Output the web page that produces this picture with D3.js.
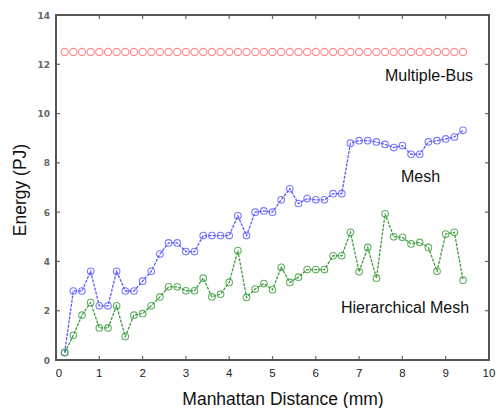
<!DOCTYPE html>
<html>
<head>
<meta charset="utf-8">
<script src="https://cdn.jsdelivr.net/npm/d3@7"></script>
<style>
  body { margin: 0; background: #fff; }
  svg { display: block; font-family: 'Liberation Sans', Arial, sans-serif; }
</style>
</head>
<body>
<svg id="chart" width="497" height="408"></svg>
<script>
const distance = d3.range(47).map(i => +(0.2 + i * 0.2).toFixed(1))

const multipleBus = distance.map(() => 12.5)

const mesh = [
  0.3, 2.8, 2.8, 3.6, 2.2, 2.2, 3.6, 2.8, 2.8, 3.2,
  3.6, 4.3, 4.75, 4.75, 4.4, 4.4, 5.05, 5.05, 5.05, 5.05,
  5.85, 5.05, 6.0, 6.05, 6.0, 6.5, 6.95, 6.35, 6.55, 6.5,
  6.5, 6.75, 6.75, 8.8, 8.9, 8.9, 8.85, 8.75, 8.62, 8.7,
  8.35, 8.35, 8.85, 8.9, 8.97, 9.05, 9.32
]

const hierMesh = [
  0.3, 1.0, 1.82, 2.33, 1.3, 1.3, 2.2, 0.95, 1.82, 1.88,
  2.2, 2.56, 2.97, 2.97, 2.81, 2.81, 3.32, 2.56, 2.67, 3.15,
  4.44, 2.54, 2.88, 3.1, 2.85, 3.76, 3.15, 3.36, 3.67, 3.67,
  3.67, 4.23, 4.23, 5.18, 3.58, 4.57, 3.32, 5.93, 5.0, 4.98,
  4.71, 4.77, 4.57, 3.6, 5.11, 5.18, 3.24
]

const xTicks = d3.range(0, 11)
const yTicks = d3.range(0, 15, 2)

const series = [
  {name: 'Multiple-Bus', values: multipleBus, color: '#ff6a6a', line: false, label: [385, 81]},
  {name: 'Mesh', values: mesh, color: '#5a5aff', line: true, label: [401, 182]},
  {name: 'Hierarchical Mesh', values: hierMesh, color: '#3c9c3c', line: true, label: [341, 313]}
]

const svg = d3.select('#chart')

const x = d3.scaleLinear().domain([0, 10]).range([56, 489])
const y = d3.scaleLinear().domain([0, 14]).range([360, 15])

// inward ticks on all four sides, matlab style
const tickLen = 4
const frame = svg.append('g').attr('stroke', '#666').attr('stroke-width', 1.2)
xTicks.forEach(t => {
  frame.append('line').attr('x1', x(t)).attr('x2', x(t)).attr('y1', y(0)).attr('y2', y(0) - tickLen)
  frame.append('line').attr('x1', x(t)).attr('x2', x(t)).attr('y1', y(14)).attr('y2', y(14) + tickLen)
})
yTicks.forEach(t => {
  frame.append('line').attr('x1', x(0)).attr('x2', x(0) + tickLen).attr('y1', y(t)).attr('y2', y(t))
  frame.append('line').attr('x1', x(10)).attr('x2', x(10) - tickLen).attr('y1', y(t)).attr('y2', y(t))
})

svg.append('g').selectAll('text').data(xTicks).enter().append('text')
  .attr('x', d => x(d) + (d === 0 ? 3 : 0))
  .attr('y', 377)
  .attr('text-anchor', 'middle')
  .attr('font-size', 11.5)
  .attr('fill', '#222')
  .text(d => d)

svg.append('g').selectAll('text').data(yTicks).enter().append('text')
  .attr('x', 50)
  .attr('y', d => y(d) + 3.5)
  .attr('text-anchor', 'end')
  .attr('font-size', 9)
  .attr('font-weight', 'bold')
  .attr('font-family', "'DejaVu Sans', sans-serif")
  .attr('fill', '#666')
  .text(d => d)

series.forEach(s => {
  const pts = distance.map((d, i) => [d, s.values[i]])
  const g = svg.append('g')
  if (s.line) {
    g.append('path')
      .datum(pts)
      .attr('fill', 'none')
      .attr('stroke', s.color)
      .attr('stroke-width', 1.3)
      .attr('stroke-dasharray', '3,1.2')
      .attr('d', d3.line().x(d => x(d[0])).y(d => y(d[1])))
  }
  g.selectAll('circle').data(pts).enter().append('circle')
    .attr('cx', d => x(d[0]))
    .attr('cy', d => y(d[1]))
    .attr('r', s.line ? 3.3 : 3.6)
    .attr('fill', 'none')
    .attr('stroke', s.color)
    .attr('stroke-opacity', 0.8)
    .attr('stroke-width', 1.1)

  svg.append('text')
    .attr('x', s.label[0])
    .attr('y', s.label[1])
    .attr('font-size', 16)
    .attr('fill', '#111')
    .text(s.name)
})

svg.append('rect')
  .attr('x', x(0)).attr('y', y(14))
  .attr('width', x(10) - x(0)).attr('height', y(0) - y(14))
  .attr('fill', 'none')
  .attr('stroke', '#555')
  .attr('stroke-width', 2)

svg.append('text')
  .attr('x', 283)
  .attr('y', 405)
  .attr('text-anchor', 'middle')
  .attr('font-size', 17.5)
  .attr('fill', '#111')
  .text('Manhattan Distance (mm)')

svg.append('text')
  .attr('transform', 'translate(26, 190) rotate(-90)')
  .attr('text-anchor', 'middle')
  .attr('font-size', 17.5)
  .attr('fill', '#111')
  .text('Energy (PJ)')
</script>
</body>
</html>
